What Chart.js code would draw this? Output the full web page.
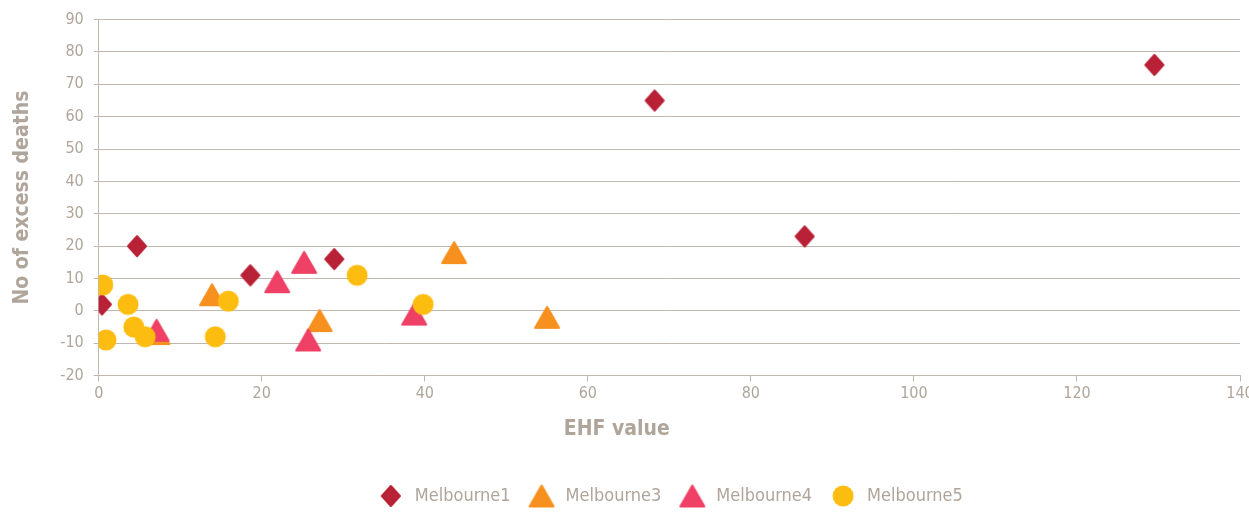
<!DOCTYPE html>
<html lang="en">
<head>
    <meta charset="UTF-8">
    <title>Excess deaths by EHF value</title>
    <style>
        html, body { margin: 0; padding: 0; background: #ffffff; }
        .chart-container { position: relative; width: 1249px; height: 512px; }
    </style>
</head>
<body>
    <div class="chart-container">
        <canvas id="ehfChart"></canvas>
    </div>

    <script src="https://cdn.jsdelivr.net/npm/chart.js"></script>
    <script>
        // Series data (EHF value, number of excess deaths)
        const seriesNames = ['Melbourne1', 'Melbourne3', 'Melbourne4', 'Melbourne5'];

        const melbourne1Ehf    = [0.4, 4.7, 18.6, 28.9, 68.2, 86.6, 129.5];
        const melbourne1Deaths = [2, 20, 11, 16, 65, 23, 76];

        const melbourne3Ehf    = [7.2, 13.9, 27.1, 43.6, 55.0];
        const melbourne3Deaths = [-7, 5, -3, 18, -2];

        const melbourne4Ehf    = [7.1, 21.9, 25.2, 25.7, 38.7];
        const melbourne4Deaths = [-6, 9, 15, -9, -1];

        const melbourne5Ehf    = [0.5, 0.9, 3.6, 4.3, 5.7, 14.3, 15.9, 31.7, 39.8];
        const melbourne5Deaths = [8, -9, 2, -5, -8, -8, 3, 11, 2];

        const xTickLabels = [0, 20, 40, 60, 80, 100, 120, 140];
        const yTickLabels = [-20, -10, 0, 10, 20, 30, 40, 50, 60, 70, 80, 90];

        const textColor = '#afa59b';
        const gridColor = '#c0b7ae';
        const fontFamily = '"Liberation Sans Narrow", "DejaVu Sans Condensed", Arial, sans-serif';

        // Marker images, so the shapes sit centred on their points like the original
        function makeMarker(shape, color) {
            const c = document.createElement('canvas');
            const ctx = c.getContext('2d');
            if (shape === 'diamond') {
                c.width = 22; c.height = 24;
                ctx.beginPath();
                ctx.moveTo(11, 2); ctx.lineTo(20, 12); ctx.lineTo(11, 22); ctx.lineTo(2, 12);
                ctx.closePath();
            } else if (shape === 'triangle') {
                c.width = 28; c.height = 25;
                ctx.beginPath();
                ctx.moveTo(14, 2); ctx.lineTo(26, 23); ctx.lineTo(2, 23);
                ctx.closePath();
            } else {
                c.width = 24; c.height = 24;
                ctx.beginPath();
                ctx.arc(12, 12, 10.5, 0, Math.PI * 2);
            }
            ctx.fillStyle = color;
            ctx.strokeStyle = color;
            ctx.lineWidth = 2;
            ctx.lineJoin = 'round';
            ctx.fill();
            if (shape !== 'circle') ctx.stroke();
            return c;
        }

        function toPoints(xs, ys) {
            return xs.map((x, i) => ({ x: x, y: ys[i] }));
        }

        const seriesX = [melbourne1Ehf, melbourne3Ehf, melbourne4Ehf, melbourne5Ehf];
        const seriesY = [melbourne1Deaths, melbourne3Deaths, melbourne4Deaths, melbourne5Deaths];
        const shapes = ['diamond', 'triangle', 'triangle', 'circle'];
        const colors = ['#b82136', '#f7901e', '#ef4065', '#fdbd10'];

        const datasets = seriesNames.map((name, i) => ({
            label: name,
            data: toPoints(seriesX[i], seriesY[i]),
            pointStyle: makeMarker(shapes[i], colors[i]),
            backgroundColor: colors[i],
            borderColor: colors[i],
            // later series drawn on top
            order: seriesNames.length - i
        }));

        new Chart(document.getElementById('ehfChart').getContext('2d'), {
            type: 'scatter',
            data: { datasets: datasets },
            options: {
                responsive: true,
                maintainAspectRatio: false,
                animation: false,
                layout: { padding: { top: 6, right: 0, left: 10, bottom: -3 } },
                plugins: {
                    tooltip: { enabled: false },
                    legend: {
                        position: 'bottom',
                        fullSize: false,
                        labels: {
                            usePointStyle: true,
                            pointStyleWidth: 30,
                            padding: 16,
                            color: textColor,
                            font: { family: fontFamily, size: 18 },
                            sort: (a, b) => a.datasetIndex - b.datasetIndex
                        }
                    }
                },
                scales: {
                    x: {
                        type: 'linear',
                        min: xTickLabels[0],
                        max: xTickLabels[xTickLabels.length - 1],
                        ticks: {
                            stepSize: xTickLabels[1] - xTickLabels[0],
                            color: textColor,
                            font: { family: fontFamily, size: 16 },
                            padding: 3
                        },
                        // let the last tick label run off the edge as in the original
                        afterFit: (scale) => { scale.paddingRight = 9; },
                        grid: { drawOnChartArea: false, drawTicks: true, tickLength: 6, color: gridColor },
                        border: { color: gridColor },
                        title: {
                            display: true,
                            // trailing spaces nudge the title left of centre, like the original
                            text: 'EHF value' + ' '.repeat(16),
                            color: textColor,
                            font: { family: fontFamily, size: 21, weight: 'bold' },
                            padding: { top: 10, bottom: 29 }
                        }
                    },
                    y: {
                        min: yTickLabels[0],
                        max: yTickLabels[yTickLabels.length - 1],
                        ticks: {
                            stepSize: yTickLabels[1] - yTickLabels[0],
                            color: textColor,
                            font: { family: fontFamily, size: 16 },
                            padding: 10
                        },
                        grid: { color: gridColor, tickLength: 5 },
                        border: { color: gridColor },
                        title: {
                            display: true,
                            text: 'No of excess deaths',
                            color: textColor,
                            font: { family: fontFamily, size: 21, weight: 'bold' },
                            padding: { top: 0, bottom: 15 }
                        }
                    }
                }
            }
        });
    </script>
</body>
</html>
